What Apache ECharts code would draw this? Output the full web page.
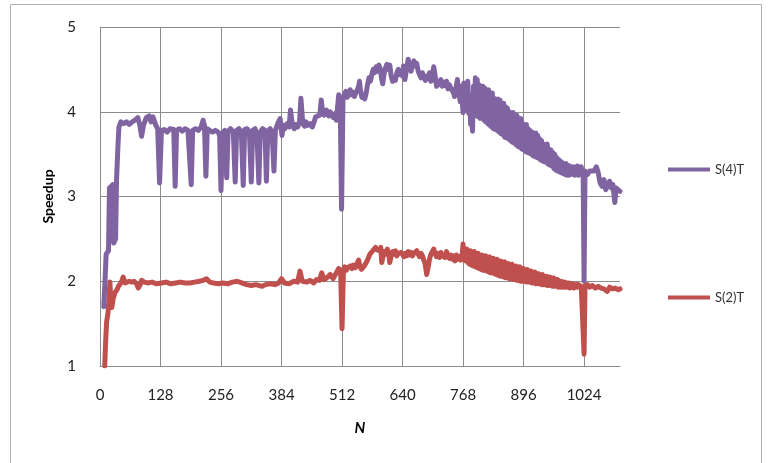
<!DOCTYPE html>
<html>
<head>
<meta charset="utf-8">
<script src="https://cdn.jsdelivr.net/npm/echarts@6/dist/echarts.min.js"></script>
<style>
  html, body { margin: 0; padding: 0; background: #fff; }
  #chart { width: 773px; height: 463px; }
</style>
</head>
<body>
<div id="chart"></div>
<script>
// Speedup vs. problem size N for four and two threads.
// Each segment is a list of [N, speedup] measurements.

const xTicks = [0, 128, 256, 384, 512, 640, 768, 896, 1024];
const yTicks = [1, 2, 3, 4, 5];

// ---- S(4)T ----
const s4Rise = [[8, 1.7], [11, 2.05], [13, 2.32], [18, 2.36], [20, 3.1], [27, 3.14], [29, 2.45], [33, 2.5], [35, 3.2], [38, 3.6], [40, 3.82], [44, 3.88], [50, 3.86], [56, 3.88], [62, 3.85], [68, 3.88], [74, 3.9], [80, 3.93], [84, 3.85], [88, 3.71], [92, 3.84], [98, 3.93], [104, 3.95], [108, 3.88], [112, 3.94], [118, 3.84], [122, 3.8]];
const s4Dips = [[126, 3.16], [130, 3.78], [136, 3.79], [142, 3.76], [148, 3.8], [152, 3.78], [156, 3.79], [159, 3.12], [162, 3.78], [168, 3.8], [174, 3.77], [180, 3.8], [186, 3.78], [190, 3.8], [193, 3.14], [196, 3.78], [202, 3.8], [208, 3.78], [214, 3.82], [218, 3.9], [221, 3.84], [224, 3.24], [227, 3.8], [232, 3.78], [238, 3.76], [244, 3.78], [250, 3.76], [253, 3.72], [256, 3.07], [259, 3.75], [264, 3.78], [268, 3.22], [271, 3.77], [276, 3.8], [282, 3.76], [286, 3.17], [289, 3.78], [294, 3.8], [299, 3.76], [303, 3.13], [306, 3.79], [311, 3.8], [316, 3.76], [320, 3.17], [323, 3.78], [328, 3.8], [332, 3.74], [336, 3.16], [339, 3.76], [344, 3.8], [349, 3.78], [352, 3.18], [355, 3.77], [360, 3.8], [364, 3.75], [368, 3.3], [371, 3.78], [376, 3.86]];
const s4Climb = [[381, 3.92], [385, 3.72], [388, 3.84], [391, 3.8], [396, 3.86], [400, 3.82], [403, 4.02], [407, 3.84], [411, 3.8], [414, 3.85], [418, 3.82], [422, 3.87], [425, 4.16], [429, 3.86], [433, 3.83], [436, 3.88], [440, 3.84], [445, 3.86], [449, 3.82], [453, 3.88], [456, 3.94], [460, 3.92], [465, 3.96], [468, 4.14], [471, 4.0], [474, 3.96], [479, 4.02], [484, 3.95], [487, 4.0], [490, 3.97], [494, 3.93], [498, 3.98], [500, 3.9], [505, 4.2], [508, 4.16], [511, 2.85]];
const s4Peak = [[514, 4.15], [517, 4.2], [520, 4.24], [523, 4.17], [526, 4.2], [529, 4.26], [532, 4.2], [535, 4.23], [538, 4.18], [541, 4.22], [544, 4.25], [547, 4.3], [549, 4.36], [551, 4.25], [554, 4.17], [557, 4.2], [560, 4.15], [563, 4.22], [566, 4.32], [569, 4.4], [572, 4.36], [575, 4.44], [578, 4.5], [581, 4.46], [584, 4.53], [587, 4.48], [590, 4.55], [593, 4.5], [596, 4.38], [598, 4.33], [601, 4.45], [604, 4.52], [607, 4.56], [610, 4.5], [613, 4.55], [616, 4.42], [619, 4.36], [622, 4.4], [625, 4.37], [628, 4.46], [631, 4.5], [634, 4.44], [637, 4.48], [640, 4.42], [642, 4.54], [645, 4.38], [647, 4.36], [650, 4.55], [652, 4.62], [655, 4.52], [658, 4.48], [661, 4.55], [664, 4.6], [667, 4.54], [670, 4.57], [673, 4.48], [676, 4.44], [679, 4.4], [682, 4.46], [685, 4.41], [688, 4.37], [691, 4.42], [694, 4.39], [697, 4.46], [700, 4.36], [703, 4.42], [706, 4.53], [709, 4.42], [712, 4.3], [715, 4.35], [718, 4.32], [721, 4.38], [724, 4.3], [727, 4.35], [730, 4.31], [733, 4.36], [736, 4.27], [739, 4.32], [742, 4.28], [745, 4.3], [748, 4.22], [750, 4.18], [753, 4.28], [756, 4.38], [759, 4.24], [762, 4.12], [764, 4.3]];
const s4Band = [
  [766, 4.30], [768, 3.99], [770, 4.34], [772, 4.02], [774, 4.28], [776, 4.04], [778, 4.36], [780, 3.98],
  [782, 4.20], [784, 3.85], [786, 4.10], [788, 3.77], [790, 4.30], [792, 3.95], [794, 4.40], [796, 4.00],
  [798, 4.38], [800, 3.94], [802, 4.32], [804, 3.92], [806, 4.25], [808, 3.95], [810, 4.30], [812, 3.90],
  [814, 4.28], [816, 3.88], [818, 4.22], [820, 3.86], [822, 4.26], [824, 3.84], [826, 4.20], [828, 3.82],
  [830, 4.22], [832, 3.80], [834, 4.16], [836, 3.79], [838, 4.12], [840, 3.78], [842, 4.15], [844, 3.76],
  [846, 4.14], [848, 3.74], [850, 4.08], [852, 3.73], [854, 4.10], [856, 3.70], [858, 4.06], [860, 3.69],
  [862, 4.04], [864, 3.68], [866, 4.00], [868, 3.66], [870, 3.98], [872, 3.64], [874, 3.99], [876, 3.63],
  [878, 3.94], [880, 3.61], [882, 3.96], [884, 3.59], [886, 3.90], [888, 3.58], [890, 3.92], [892, 3.56],
  [894, 3.86], [896, 3.55], [898, 3.84], [900, 3.53], [902, 3.85], [904, 3.52], [906, 3.80], [908, 3.51],
  [910, 3.78], [912, 3.50], [914, 3.76], [916, 3.48], [918, 3.74], [920, 3.47], [922, 3.75], [924, 3.46],
  [926, 3.72], [928, 3.45], [930, 3.68], [932, 3.43], [934, 3.66], [936, 3.42], [938, 3.62], [940, 3.41],
  [942, 3.60], [944, 3.40], [946, 3.62], [948, 3.38], [950, 3.56], [952, 3.37], [954, 3.55], [956, 3.36],
  [958, 3.52], [960, 3.33], [962, 3.50], [964, 3.31], [966, 3.46], [968, 3.30], [970, 3.44], [972, 3.29],
  [974, 3.42], [976, 3.28], [978, 3.40], [980, 3.27], [982, 3.38], [984, 3.26], [986, 3.39], [988, 3.25],
  [990, 3.37], [992, 3.25], [994, 3.36], [996, 3.26], [998, 3.34], [1000, 3.27], [1002, 3.35], [1004, 3.25],
  [1006, 3.34], [1008, 3.26], [1010, 3.36], [1012, 3.25], [1014, 3.33], [1016, 3.26], [1018, 3.35], [1020, 3.27],
  [1022, 3.30]
];
const s4Tail = [[1024, 2.0], [1026, 3.3], [1031, 3.26], [1036, 3.3], [1040, 3.28], [1045, 3.3], [1050, 3.35], [1054, 3.28], [1058, 3.16], [1062, 3.12], [1066, 3.2], [1070, 3.08], [1074, 3.14], [1078, 3.18], [1082, 3.1], [1085, 3.14], [1089, 2.93], [1092, 3.1], [1096, 3.08], [1100, 3.06]];

// ---- S(2)T ----
const s2Rise = [[10, 1.0], [12, 1.3], [14, 1.52], [17, 1.63], [19, 1.8], [21, 1.99], [23, 1.72], [25, 1.69], [28, 1.8], [32, 1.87], [36, 1.9], [39, 1.94], [43, 1.97], [46, 2.0], [49, 2.05], [53, 1.98], [57, 1.98], [62, 2.0], [67, 1.99], [72, 2.0], [77, 1.97], [81, 1.92], [85, 1.96], [88, 2.01], [94, 1.99]];
const s2Flat = [[100, 1.98], [110, 1.99], [120, 1.97], [130, 1.98], [140, 1.99], [150, 1.97], [160, 1.98], [170, 1.99], [180, 1.98], [190, 1.98], [200, 1.99], [210, 2.0], [218, 2.01], [225, 2.03], [232, 1.99], [240, 1.98], [250, 1.97], [260, 1.98], [270, 1.97], [280, 1.99], [290, 2.0], [300, 1.98], [310, 1.96], [320, 1.95], [330, 1.96], [343, 1.94], [350, 1.96], [360, 1.97], [370, 1.96], [378, 1.98], [384, 2.03], [390, 1.98], [400, 1.97], [410, 2.0], [418, 1.99], [423, 2.12], [428, 2.0], [437, 1.99], [445, 2.01], [452, 1.98], [458, 2.02], [464, 2.01], [469, 2.1], [474, 2.02], [480, 2.04], [487, 2.08], [493, 2.03], [500, 2.1], [505, 2.15], [509, 2.12]];
const s2Hump = [[512, 1.44], [515, 2.14], [518, 2.17], [521, 2.13], [524, 2.16], [527, 2.14], [530, 2.18], [533, 2.15], [536, 2.19], [540, 2.16], [543, 2.2], [547, 2.25], [550, 2.17], [553, 2.14], [556, 2.12], [559, 2.18], [562, 2.2], [565, 2.24], [568, 2.28], [571, 2.32], [574, 2.3], [577, 2.36], [580, 2.34], [583, 2.4], [586, 2.37], [589, 2.39], [592, 2.36], [594, 2.4], [596, 2.22], [599, 2.3], [602, 2.35], [605, 2.32], [608, 2.38], [611, 2.31], [613, 2.22], [616, 2.3], [619, 2.35], [622, 2.32], [625, 2.36], [628, 2.3], [631, 2.33], [634, 2.31], [637, 2.34], [640, 2.32], [643, 2.29], [646, 2.33], [649, 2.3], [652, 2.35], [655, 2.31], [658, 2.34], [661, 2.3], [664, 2.33], [667, 2.31], [670, 2.36], [673, 2.32], [676, 2.29], [679, 2.33], [682, 2.3], [685, 2.28], [688, 2.2], [691, 2.08], [694, 2.16], [697, 2.26], [700, 2.32], [703, 2.3], [706, 2.38], [709, 2.32], [712, 2.29], [715, 2.33], [718, 2.28], [721, 2.34], [724, 2.3], [727, 2.32], [730, 2.28], [733, 2.35], [736, 2.3], [739, 2.27], [742, 2.31], [745, 2.26], [748, 2.3], [751, 2.24], [754, 2.31], [757, 2.26], [760, 2.29], [763, 2.25]];
const s2Band = [
  [766, 2.30], [768, 2.44], [770, 2.25], [772, 2.36], [774, 2.24], [776, 2.38], [778, 2.22], [780, 2.34],
  [782, 2.20], [784, 2.36], [786, 2.19], [788, 2.33], [790, 2.18], [792, 2.35], [794, 2.17], [796, 2.32],
  [798, 2.16], [800, 2.33], [802, 2.15], [804, 2.30], [806, 2.14], [808, 2.31], [810, 2.13], [812, 2.29],
  [814, 2.13], [816, 2.30], [818, 2.12], [820, 2.28], [822, 2.11], [824, 2.29], [826, 2.10], [828, 2.26],
  [830, 2.10], [832, 2.27], [834, 2.09], [836, 2.25], [838, 2.08], [840, 2.26], [842, 2.07], [844, 2.24],
  [846, 2.06], [848, 2.24], [850, 2.06], [852, 2.22], [854, 2.05], [856, 2.23], [858, 2.04], [860, 2.20],
  [862, 2.04], [864, 2.21], [866, 2.03], [868, 2.19], [870, 2.03], [872, 2.20], [874, 2.02], [876, 2.17],
  [878, 2.02], [880, 2.18], [882, 2.01], [884, 2.16], [886, 2.01], [888, 2.17], [890, 2.00], [892, 2.15],
  [894, 2.00], [896, 2.15], [898, 2.00], [900, 2.13], [902, 1.99], [904, 2.14], [906, 1.99], [908, 2.12],
  [910, 1.99], [912, 2.12], [914, 1.98], [916, 2.10], [918, 1.98], [920, 2.11], [922, 1.97], [924, 2.09],
  [926, 1.97], [928, 2.09], [930, 1.97], [932, 2.07], [934, 1.96], [936, 2.08], [938, 1.96], [940, 2.06],
  [942, 1.96], [944, 2.06], [946, 1.95], [948, 2.05], [950, 1.95], [952, 2.05], [954, 1.95], [956, 2.03],
  [958, 1.94], [960, 2.04], [962, 1.94], [964, 2.02], [966, 1.94], [968, 2.02], [970, 1.93], [972, 2.00],
  [974, 1.93], [976, 2.00], [978, 1.93], [980, 1.99], [982, 1.93], [984, 1.99], [986, 1.93], [988, 1.98],
  [990, 1.93], [992, 1.98], [994, 1.92], [996, 1.97], [998, 1.93], [1000, 1.97], [1002, 1.92], [1004, 1.96],
  [1006, 1.93], [1008, 1.96], [1010, 1.93], [1012, 1.96], [1014, 1.94], [1016, 1.95], [1018, 1.94], [1020, 1.96],
  [1022, 1.95]
];
const s2Tail = [[1024, 1.14], [1026, 1.95], [1031, 1.96], [1036, 1.93], [1042, 1.95], [1048, 1.92], [1054, 1.94], [1060, 1.92], [1066, 1.91], [1073, 1.88], [1078, 1.93], [1084, 1.91], [1090, 1.92], [1096, 1.9], [1100, 1.91]];

const s4Data = [].concat(s4Rise, s4Dips, s4Climb, s4Peak, s4Band, s4Tail);
const s2Data = [].concat(s2Rise, s2Flat, s2Hump, s2Band, s2Tail);

const FONT = 'Lato, "Liberation Sans", sans-serif';
const GRID_COLOR = '#8c8c8c';
const PURPLE = '#8064A2';
const RED = '#C0504D';

const chart = echarts.init(document.getElementById('chart'), null, { renderer: 'canvas' });

chart.setOption({
  animation: false,
  backgroundColor: '#ffffff',
  textStyle: { fontFamily: FONT },
  graphic: [{
    type: 'rect',
    shape: { x: 10.5, y: 4.5, width: 751, height: 470 },
    style: { fill: 'none', stroke: '#b0b0b0', lineWidth: 1 },
    silent: true
  }],
  grid: { left: 100, top: 27, right: 153, bottom: 97, containLabel: false },
  legend: [
    {
      data: ['S(4)T'], left: 663, top: 158, orient: 'vertical',
      icon: 'rect', itemWidth: 42, itemHeight: 4, itemGap: 3,
      textStyle: { fontFamily: FONT, fontSize: 13, color: '#333' }
    },
    {
      data: ['S(2)T'], left: 663, top: 286, orient: 'vertical',
      icon: 'rect', itemWidth: 42, itemHeight: 4, itemGap: 3,
      textStyle: { fontFamily: FONT, fontSize: 13, color: '#333' }
    }
  ],
  xAxis: {
    type: 'value',
    min: xTicks[0],
    max: 1100,
    interval: xTicks[1] - xTicks[0],
    name: 'N',
    nameLocation: 'middle',
    nameGap: 55,
    nameTextStyle: { fontFamily: FONT, fontSize: 15, fontWeight: 'bold', fontStyle: 'italic', color: '#000' },
    axisLine: { show: true, lineStyle: { color: GRID_COLOR, width: 1 } },
    axisTick: { show: false },
    axisLabel: {
      showMaxLabel: false, margin: 22, fontSize: 15, color: '#222', fontFamily: FONT,
      formatter: v => xTicks.includes(v) ? String(v) : ''
    },
    splitLine: { show: true, showMaxLine: false, lineStyle: { color: GRID_COLOR, width: 1 } }
  },
  yAxis: {
    type: 'value',
    min: yTicks[0],
    max: yTicks[yTicks.length - 1],
    interval: 1,
    name: 'Speedup',
    nameLocation: 'middle',
    nameGap: 45,
    nameRotate: 90,
    nameTextStyle: { fontFamily: FONT, fontSize: 14, fontWeight: 'bold', color: '#000' },
    axisLine: { show: true, lineStyle: { color: GRID_COLOR, width: 1 } },
    axisTick: { show: false },
    axisLabel: { margin: 24, fontSize: 15, color: '#222', fontFamily: FONT },
    splitLine: { show: true, lineStyle: { color: GRID_COLOR, width: 1 } }
  },
  series: [
    {
      name: 'S(2)T',
      type: 'line',
      data: s2Data,
      showSymbol: false,
      color: RED,
      lineStyle: { color: RED, width: 5, join: 'round', cap: 'round' },
      z: 2
    },
    {
      name: 'S(4)T',
      type: 'line',
      data: s4Data,
      showSymbol: false,
      color: PURPLE,
      lineStyle: { color: PURPLE, width: 5, join: 'round', cap: 'round' },
      z: 3
    }
  ]
});
</script>
</body>
</html>
